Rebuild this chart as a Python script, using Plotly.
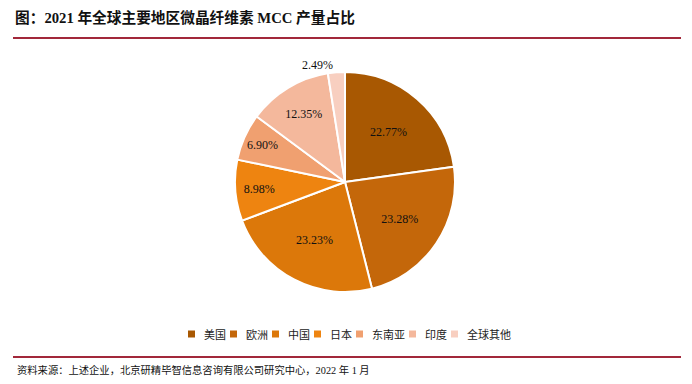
import plotly.graph_objects as go

regions = ["美国", "欧洲", "中国", "日本", "东南亚", "印度", "全球其他"]
shares = [22.77, 23.28, 23.23, 8.98, 6.90, 12.35, 2.49]
colors = ["#A85802", "#C4670A", "#DC780A", "#EE8410", "#F0A070", "#F4B89C", "#F8CFC0"]
positions = ["inside", "inside", "inside", "inside", "inside", "inside", "outside"]

title_text = "<b>图：2021 年全球主要地区微晶纤维素 MCC 产量占比</b>"
source_text = "资料来源：上述企业，北京研精毕智信息咨询有限公司研究中心，2022 年 1 月"

W, H = 692, 384
OFF = 8  # page body margin offset


def px(x):
    return (x - OFF) / W


def py(y):
    return (H - (y - OFF)) / H


cx, cy, r = 345, 182, 110
SERIF_CJK = "Liberation Serif, Times New Roman, Noto Sans CJK SC"

fig = go.Figure(go.Pie(
    labels=regions,
    values=shares,
    sort=False,
    direction="clockwise",
    rotation=0,
    marker=dict(colors=colors, line=dict(color="white", width=2)),
    texttemplate="%{value:.2f}%",
    textposition=positions,
    insidetextorientation="horizontal",
    textfont=dict(family="Liberation Serif, Times New Roman, serif", size=12, color="#111"),
    domain=dict(x=[px(cx - r), px(cx + r)], y=[py(cy + r), py(cy - r)]),
    hoverinfo="label+value",
    showlegend=False,
))

shapes = [
    dict(type="line", xref="paper", yref="paper", x0=px(13), x1=px(681),
         y0=py(38), y1=py(38), line=dict(color="#A2283A", width=2)),
    dict(type="line", xref="paper", yref="paper", x0=px(13), x1=px(681),
         y0=py(357), y1=py(357), line=dict(color="#A2283A", width=2)),
]
annotations = [
    dict(text=title_text, xref="paper", yref="paper",
         x=px(13), y=py(18), xanchor="left", yanchor="middle", showarrow=False,
         font=dict(family=SERIF_CJK, size=14.7, color="#111")),
    dict(text=source_text, xref="paper", yref="paper",
         x=px(15), y=py(370), xanchor="left", yanchor="middle", showarrow=False,
         font=dict(family=SERIF_CJK, size=10.3, color="#111")),
]

# custom legend built from the category/colour arrays
leg_y = 334
xc = 188
for name, col in zip(regions, colors):
    shapes.append(dict(type="rect", xref="paper", yref="paper",
                       x0=px(xc), x1=px(xc + 7), y0=py(leg_y + 3.5), y1=py(leg_y - 3.5),
                       fillcolor=col, line=dict(width=0)))
    annotations.append(dict(text=name, xref="paper", yref="paper",
                            x=px(xc + 14), y=py(leg_y), xanchor="left", yanchor="middle",
                            showarrow=False, font=dict(family="Noto Sans CJK SC", size=11, color="#222")))
    xc += 14 + 11 * len(name) + 6

fig.update_layout(
    width=W, height=H,
    margin=dict(l=0, r=0, t=0, b=0),
    paper_bgcolor="white",
    plot_bgcolor="white",
    showlegend=False,
    shapes=shapes,
    annotations=annotations,
)

fig.write_html("out.html")
